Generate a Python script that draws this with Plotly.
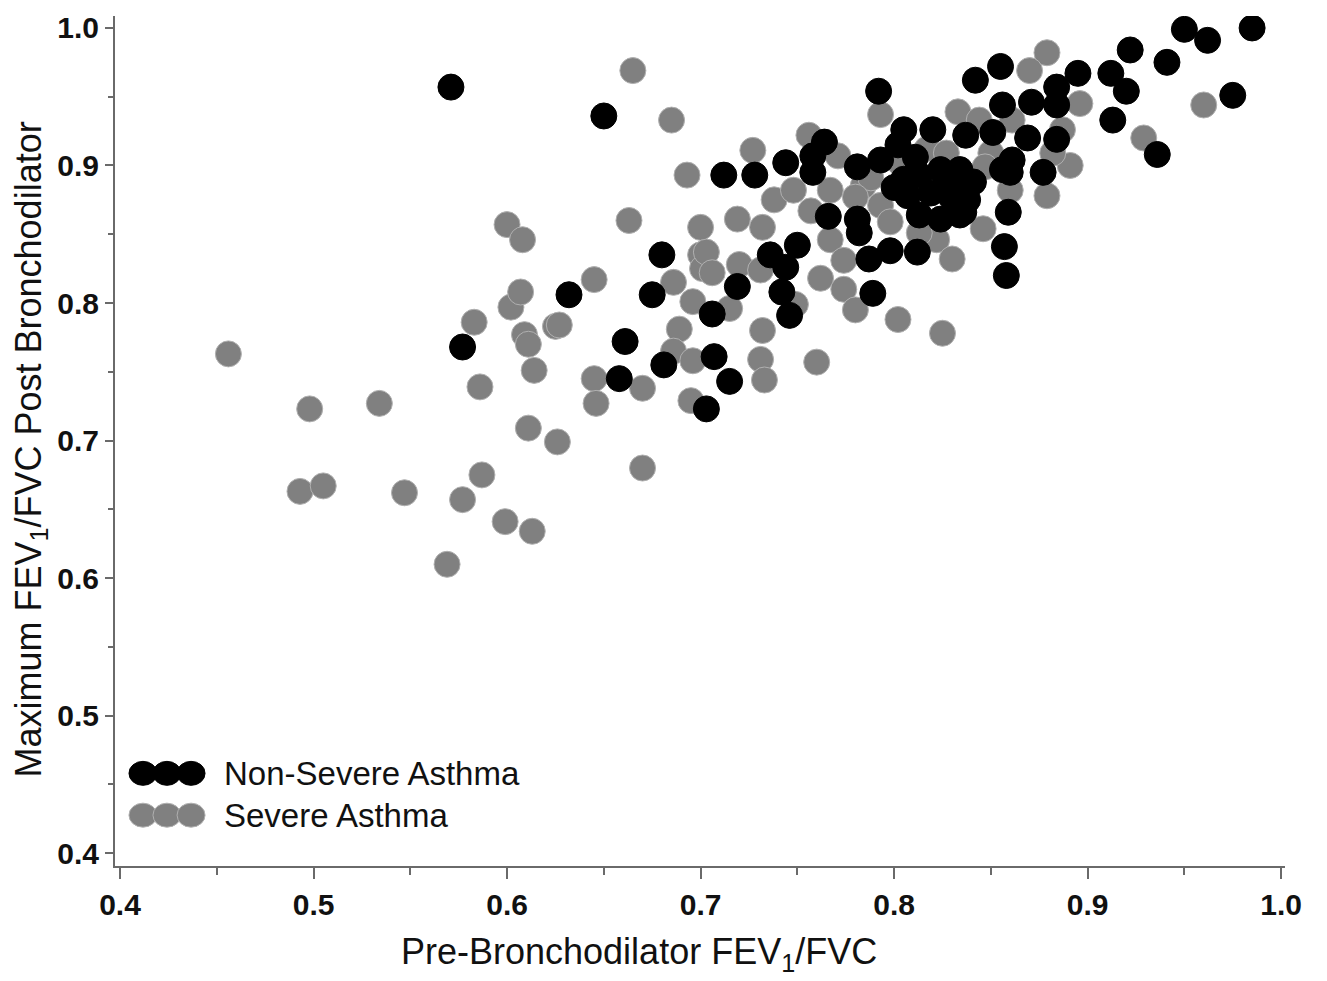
import plotly.graph_objects as go

# Non-Severe Asthma (black)
nonsevere_x = [0.571, 0.650, 0.985, 0.950, 0.962, 0.922, 0.941, 0.895, 0.912, 0.920,
               0.975, 0.913, 0.936, 0.855, 0.842, 0.792, 0.884, 0.856, 0.871, 0.884,
               0.802, 0.805, 0.820, 0.837, 0.851, 0.869, 0.884, 0.764, 0.758, 0.758,
               0.744, 0.861, 0.860, 0.877, 0.856, 0.859, 0.857, 0.858, 0.836, 0.829,
               0.805, 0.813, 0.824, 0.834, 0.841, 0.838, 0.807, 0.813, 0.824, 0.834,
               0.819, 0.829, 0.811, 0.800, 0.781, 0.793, 0.712, 0.728, 0.766, 0.781,
               0.782, 0.787, 0.798, 0.812, 0.750, 0.736, 0.744, 0.719, 0.742, 0.746,
               0.706, 0.789, 0.680, 0.675, 0.632, 0.661, 0.658, 0.681, 0.707, 0.715,
               0.703, 0.577]
nonsevere_y = [0.957, 0.936, 1.000, 0.999, 0.991, 0.984, 0.975, 0.967, 0.967, 0.954,
               0.951, 0.933, 0.908, 0.972, 0.962, 0.954, 0.957, 0.944, 0.946, 0.944,
               0.915, 0.926, 0.926, 0.922, 0.924, 0.920, 0.919, 0.917, 0.907, 0.895,
               0.902, 0.904, 0.895, 0.895, 0.897, 0.866, 0.841, 0.820, 0.866, 0.878,
               0.890, 0.893, 0.897, 0.897, 0.888, 0.875, 0.878, 0.864, 0.861, 0.864,
               0.880, 0.888, 0.906, 0.884, 0.899, 0.904, 0.893, 0.893, 0.863, 0.861,
               0.851, 0.832, 0.838, 0.837, 0.842, 0.835, 0.826, 0.812, 0.808, 0.791,
               0.792, 0.807, 0.835, 0.806, 0.806, 0.772, 0.745, 0.755, 0.761, 0.743,
               0.723, 0.768]

# Severe Asthma (gray)
severe_x = [0.456, 0.498, 0.534, 0.493, 0.505, 0.547, 0.587, 0.577, 0.599, 0.613,
            0.569, 0.583, 0.602, 0.625, 0.609, 0.611, 0.614, 0.586, 0.611, 0.626,
            0.645, 0.646, 0.600, 0.608, 0.663, 0.645, 0.607, 0.627, 0.670, 0.670,
            0.689, 0.686, 0.696, 0.695, 0.665, 0.685, 0.693, 0.700, 0.719, 0.732,
            0.738, 0.748, 0.757, 0.767, 0.767, 0.774, 0.700, 0.701, 0.720, 0.731,
            0.686, 0.696, 0.715, 0.749, 0.762, 0.774, 0.780, 0.732, 0.731, 0.760,
            0.733, 0.727, 0.756, 0.771, 0.793, 0.833, 0.784, 0.793, 0.798, 0.822,
            0.830, 0.802, 0.825, 0.846, 0.860, 0.879, 0.891, 0.882, 0.887, 0.896,
            0.879, 0.870, 0.960, 0.929, 0.844, 0.861, 0.703, 0.706, 0.817, 0.788,
            0.780, 0.803, 0.827, 0.850, 0.813, 0.847]
severe_y = [0.763, 0.723, 0.727, 0.663, 0.667, 0.662, 0.675, 0.657, 0.641, 0.634,
            0.610, 0.786, 0.797, 0.783, 0.777, 0.770, 0.751, 0.739, 0.709, 0.699,
            0.745, 0.727, 0.857, 0.846, 0.860, 0.817, 0.808, 0.784, 0.738, 0.680,
            0.781, 0.765, 0.758, 0.729, 0.969, 0.933, 0.893, 0.855, 0.861, 0.855,
            0.875, 0.882, 0.867, 0.882, 0.846, 0.831, 0.835, 0.825, 0.828, 0.824,
            0.815, 0.801, 0.796, 0.799, 0.818, 0.810, 0.795, 0.780, 0.759, 0.757,
            0.744, 0.911, 0.922, 0.907, 0.937, 0.939, 0.885, 0.871, 0.859, 0.846,
            0.832, 0.788, 0.778, 0.854, 0.882, 0.878, 0.900, 0.909, 0.926, 0.945,
            0.982, 0.969, 0.944, 0.920, 0.933, 0.933, 0.837, 0.822, 0.912, 0.891,
            0.877, 0.902, 0.909, 0.909, 0.851, 0.899]

tick_vals = [0.4, 0.5, 0.6, 0.7, 0.8, 0.9, 1.0]
tick_text = ["0.4", "0.5", "0.6", "0.7", "0.8", "0.9", "1.0"]
series_names = ["Non-Severe Asthma", "Severe Asthma"]
series_colors = ["#000000", "#808080"]

FONT = "Liberation Sans, Arial, sans-serif"

fig = go.Figure()
fig.add_trace(go.Scatter(
    x=severe_x, y=severe_y, mode="markers", name=series_names[1], showlegend=False,
    marker=dict(size=26, color=series_colors[1], line=dict(color="#b0b0b0", width=1))))
fig.add_trace(go.Scatter(
    x=nonsevere_x, y=nonsevere_y, mode="markers", name=series_names[0], showlegend=False,
    marker=dict(size=26, color=series_colors[0], line=dict(color="#000000", width=1))))

# custom legend: three overlapping dots + label
shapes = []
annotations = []
legend_rows = [(0.109, series_colors[0], "#000000", series_names[0]),
               (0.0598, series_colors[1], "#b0b0b0", series_names[1])]
for ypos, fill, edge, label in legend_rows:
    for xpos in [0.0239, 0.0444, 0.065]:
        shapes.append(dict(type="circle", xref="paper", yref="paper",
                           xsizemode="pixel", ysizemode="pixel",
                           xanchor=xpos, yanchor=ypos,
                           x0=-14, x1=14, y0=-12, y1=12,
                           fillcolor=fill, line=dict(color=edge, width=1)))
    annotations.append(dict(x=0.0915, y=ypos, xref="paper", yref="paper",
                            xanchor="left", yanchor="middle", showarrow=False,
                            text=label, font=dict(family=FONT, size=33, color="#111111")))

annotations.append(dict(x=0.448, y=-0.104, xref="paper", yref="paper",
                        xanchor="center", yanchor="middle", showarrow=False,
                        text="Pre-Bronchodilator FEV<sub>1</sub>/FVC",
                        font=dict(family=FONT, size=36, color="#111111")))
annotations.append(dict(x=-0.0726, y=0.49, xref="paper", yref="paper",
                        xanchor="center", yanchor="middle", showarrow=False, textangle=-90,
                        text="Maximum FEV<sub>1</sub>/FVC Post Bronchodilator",
                        font=dict(family=FONT, size=36, color="#111111")))

axis_common = dict(
    showgrid=False, zeroline=False, showline=True, linecolor="#6a6a6a", linewidth=2,
    ticks="outside", tickcolor="#6a6a6a", tickwidth=2,
    tickvals=tick_vals, ticktext=tick_text,
    tickfont=dict(family=FONT, size=30, color="#111111", weight="bold"),
)

fig.update_layout(
    width=1327, height=981,
    margin=dict(l=115, r=42, t=13, b=115),
    paper_bgcolor="white", plot_bgcolor="white",
    xaxis=dict(range=[0.3974, 1.002], ticklen=11,
               minor=dict(tickvals=[0.45, 0.55, 0.65, 0.75, 0.85, 0.95], ticks="outside",
                          ticklen=7, tickcolor="#6a6a6a", tickwidth=2),
               **axis_common),
    yaxis=dict(range=[0.3906, 1.0087], ticklen=8,
               minor=dict(tickvals=[0.45, 0.55, 0.65, 0.75, 0.85, 0.95], ticks="outside",
                          ticklen=5, tickcolor="#6a6a6a", tickwidth=2),
               **axis_common),
    shapes=shapes,
    annotations=annotations,
    showlegend=False,
)

fig.write_html("out.html")
